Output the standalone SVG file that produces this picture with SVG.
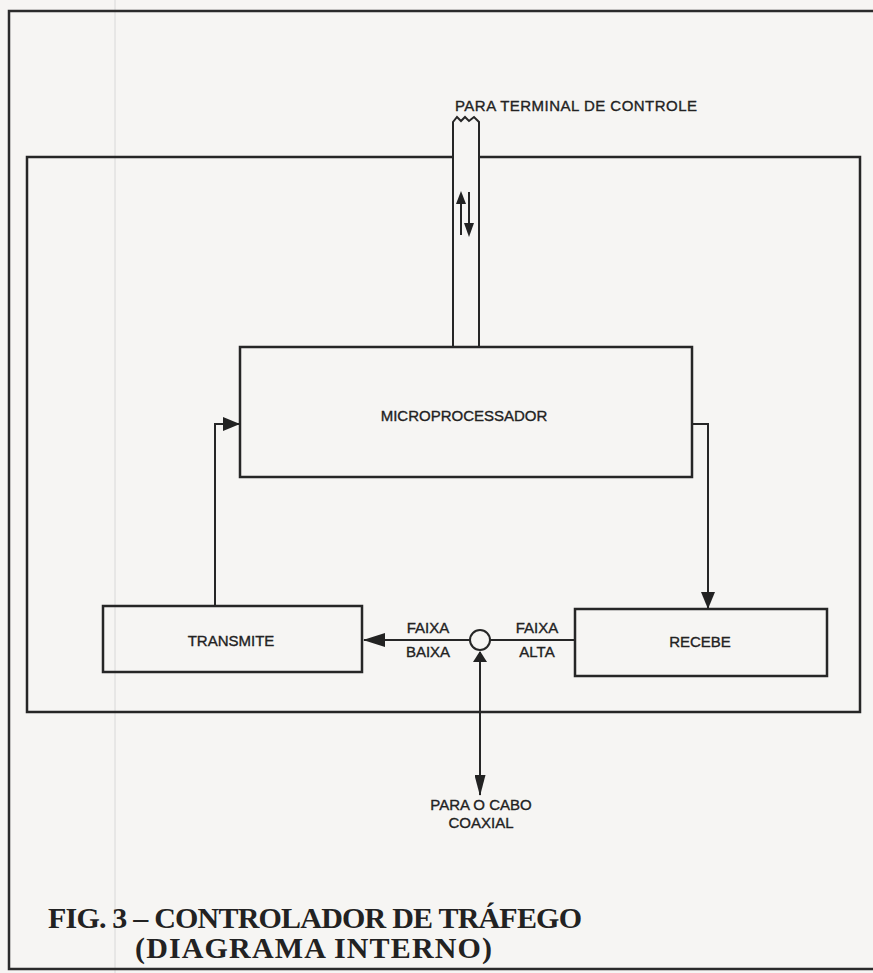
<svg xmlns="http://www.w3.org/2000/svg" width="873" height="973" viewBox="0 0 873 973">
<style>
.frame{fill:none;stroke:#2b2b2b;stroke-width:2.5}
.box{fill:none;stroke:#262626;stroke-width:2.5}
.wire{fill:none;stroke:#262626;stroke-width:2}
.lbl{font-family:"Liberation Sans",Arial,sans-serif;font-size:15px;fill:#222;stroke:#222;stroke-width:0.35}
.cap{font-family:"Liberation Serif","Times New Roman",serif;font-weight:bold;font-size:30px;fill:#222}
.head{fill:#222}
</style>
<defs>
<marker id="arr" viewBox="0 0 17 14" refX="16" refY="7" markerUnits="userSpaceOnUse" markerWidth="17" markerHeight="14" orient="auto-start-reverse">
<path class="head" d="M0,0 L17,7 L0,14 z"/>
</marker>
<marker id="arrL" viewBox="0 0 22 14" refX="21" refY="7" markerUnits="userSpaceOnUse" markerWidth="22" markerHeight="14" orient="auto-start-reverse">
<path class="head" d="M0,0 L22,7 L0,14 z"/>
</marker>
<marker id="arrS" viewBox="0 0 11 14" refX="10" refY="7" markerUnits="userSpaceOnUse" markerWidth="11" markerHeight="14" orient="auto-start-reverse">
<path class="head" d="M0,0 L11,7 L0,14 z"/>
</marker>
<marker id="arrN" viewBox="0 0 21 11" refX="20" refY="5.5" markerUnits="userSpaceOnUse" markerWidth="21" markerHeight="11" orient="auto-start-reverse">
<path class="head" d="M0,0 L21,5.5 L0,11 z"/>
</marker>
</defs>
<rect x="0" y="0" width="873" height="973" fill="#f6f5f3"/>
<line x1="115" y1="0" x2="115" y2="973" stroke="#d8d8d8" stroke-width="1"/>
<g id="page-frame">
<path class="frame" d="M873,11 H9 V969 H873"/>
</g>
<g id="controller">
<path class="box" d="M453,157 H27 V712 H860 V157 H479"/>
</g>
<g id="terminal">
<path class="wire" d="M453,346 V122 L457,117 L461,121 L465,117 L469,121 L474,117 L479,122 V346"/>
<text class="lbl" x="455" y="111" textLength="242">PARA TERMINAL DE CONTROLE</text>
<line class="wire" x1="461" y1="200" x2="461" y2="235"/>
<polygon class="head" points="461,191 456,204 466,204"/>
<line class="wire" x1="469" y1="192" x2="469" y2="226"/>
<polygon class="head" points="469,237 464,223 474,223"/>
</g>
<g id="microprocessador">
<rect class="box" x="240" y="347" width="452" height="130"/>
<text class="lbl" x="464" y="421" text-anchor="middle" font-size="15.5">MICROPROCESSADOR</text>
</g>
<g id="transmite">
<rect class="box" x="103" y="606" width="259" height="66"/>
<text class="lbl" x="231" y="646" text-anchor="middle">TRANSMITE</text>
</g>
<g id="recebe">
<rect class="box" x="575" y="609" width="252" height="67"/>
<text class="lbl" x="700" y="647" text-anchor="middle">RECEBE</text>
</g>
<g id="splitter">
<circle cx="480" cy="640" r="10" fill="#f6f5f3" stroke="#262626" stroke-width="2"/>
</g>
<g id="connectors">
<path class="wire" d="M215,606 V424 H239" marker-end="url(#arr)"/>
<path class="wire" d="M692,424 H708 V608" marker-end="url(#arr)"/>
<path class="wire" d="M470,640 H364" marker-end="url(#arrL)"/>
<path class="wire" d="M490,640 H575"/>
<path class="wire" d="M480,652 V720" marker-start="url(#arrS)"/>
<path class="wire" d="M480,720 V795" marker-end="url(#arrN)"/>
</g>
<g id="labels">
<text class="lbl" x="428" y="633" text-anchor="middle">FAIXA</text>
<text class="lbl" x="428" y="657" text-anchor="middle">BAIXA</text>
<text class="lbl" x="537" y="633" text-anchor="middle">FAIXA</text>
<text class="lbl" x="537" y="657" text-anchor="middle">ALTA</text>
<text class="lbl" x="481" y="810" text-anchor="middle">PARA O CABO</text>
<text class="lbl" x="481" y="828" text-anchor="middle">COAXIAL</text>
</g>
<g id="caption">
<text class="cap" x="48" y="928" textLength="534">FIG. 3 – CONTROLADOR DE TRÁFEGO</text>
<text class="cap" x="135" y="958" textLength="357">(DIAGRAMA INTERNO)</text>
</g>
</svg>
